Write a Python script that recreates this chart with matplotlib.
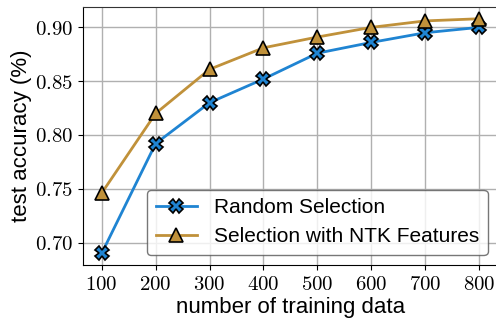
import matplotlib
matplotlib.use("Agg")
import matplotlib.pyplot as plt

n_train = [100, 200, 300, 400, 500, 600, 700, 800]
acc_random = [0.690, 0.792, 0.830, 0.852, 0.876, 0.886, 0.895, 0.900]
acc_ntk = [0.746, 0.820, 0.861, 0.881, 0.891, 0.900, 0.906, 0.908]

plt.rcParams["mathtext.fontset"] = "cm"
plt.rcParams["font.family"] = ["Liberation Sans", "DejaVu Sans"]

fig = plt.figure(figsize=(4.96, 3.19), dpi=100)
ax = fig.add_axes([0.167, 0.169, 0.837, 0.809])

ax.plot(n_train, acc_random, color="#1f84d2", lw=2, marker="X", markersize=10,
        markeredgecolor="black", markeredgewidth=1.2, label="Random Selection")
ax.plot(n_train, acc_ntk, color="#c0913a", lw=2, marker="^", markersize=10,
        markeredgecolor="black", markeredgewidth=1.2, label="Selection with NTK Features")

ax.set_xticks(n_train)
ax.set_xticklabels([f"${v}$" for v in n_train], fontsize=15)
yt = [0.70, 0.75, 0.80, 0.85, 0.90]
ax.set_yticks(yt)
ax.set_yticklabels([f"${v:.2f}$" for v in yt], fontsize=15)

ax.grid(True, color="#b0b0b0", lw=1)
ax.set_axisbelow(True)
for s in ["left", "bottom"]:
    ax.spines[s].set_color("black")
ax.spines["top"].set_color("#333333")
ax.spines["right"].set_visible(False)

ax.set_xlabel("number of training data", fontsize=16, labelpad=2.5)
ax.set_ylabel("test accuracy (%)", fontsize=16, labelpad=2)
ax.legend(loc="lower right", fontsize=15, edgecolor="#555555", framealpha=0.8)

plt.savefig("out.png")
